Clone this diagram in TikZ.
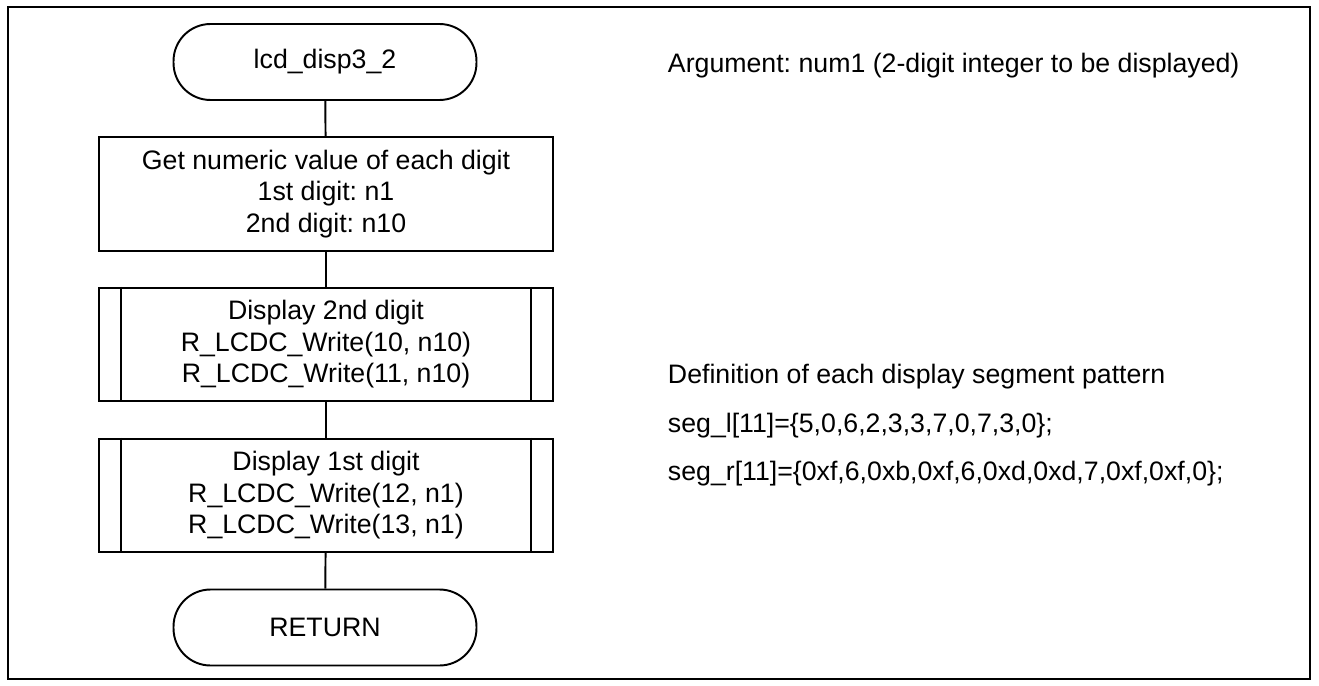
\documentclass[tikz,border=0pt]{standalone}
\usepackage{fontspec}
\setmainfont{Liberation Sans}
\usetikzlibrary{positioning}
\frenchspacing

\begin{document}
\begin{tikzpicture}[x=0.02cm, y=-0.02cm, line width=1.1pt,
	every node/.style={font=\fontsize{15.2}{17.9}\selectfont, align=center, inner sep=0pt},
	term/.style={draw, rounded corners=0.74cm, minimum width=6.06cm, minimum height=1.52cm},
	proc/.style={draw, minimum width=9.08cm, minimum height=2.27cm},
	note/.style={anchor=west}]
	\useasboundingbox (0,0) rectangle (1319,686);
	\draw (8,7) rectangle (1310,679);

	\node[term] (start) at (325,62) {lcd\_disp3\_2};
	\node[proc] (getnum) at (326,194) {Get numeric value of each digit\\1st digit: n1\\2nd digit: n10};
	\node[proc] (disp2) at (326,344.5) {Display 2nd digit\\R\_LCDC\_Write(10, n10)\\R\_LCDC\_Write(11, n10)};
	\node[proc] (disp1) at (326,495.5) {Display 1st digit\\R\_LCDC\_Write(12, n1)\\R\_LCDC\_Write(13, n1)};
	\node[term] (ret) at (325,627.5) {RETURN};

	% subroutine bars
	\foreach \n in {disp2,disp1} {
		\draw ([xshift=0.46cm]\n.north west) -- ([xshift=0.46cm]\n.south west);
		\draw ([xshift=-0.46cm]\n.north east) -- ([xshift=-0.46cm]\n.south east);
	}

	\draw (start) -- (getnum);
	\draw (getnum) -- (disp2);
	\draw (disp2) -- (disp1);
	\draw (disp1) -- (ret);

	\node[note] (arg) at (667,66) {Argument: num1 (2-digit integer to be displayed)};
	\node[note] (defn) at (667,377) {Definition of each display segment pattern};
	\node[note] (segl) at (667,426) {seg\_l[11]=\{5,0,6,2,3,3,7,0,7,3,0\};};
	\node[note] (segr) at (667,474) {seg\_r[11]=\{0xf,6,0xb,0xf,6,0xd,0xd,7,0xf,0xf,0\};};
\end{tikzpicture}
\end{document}
